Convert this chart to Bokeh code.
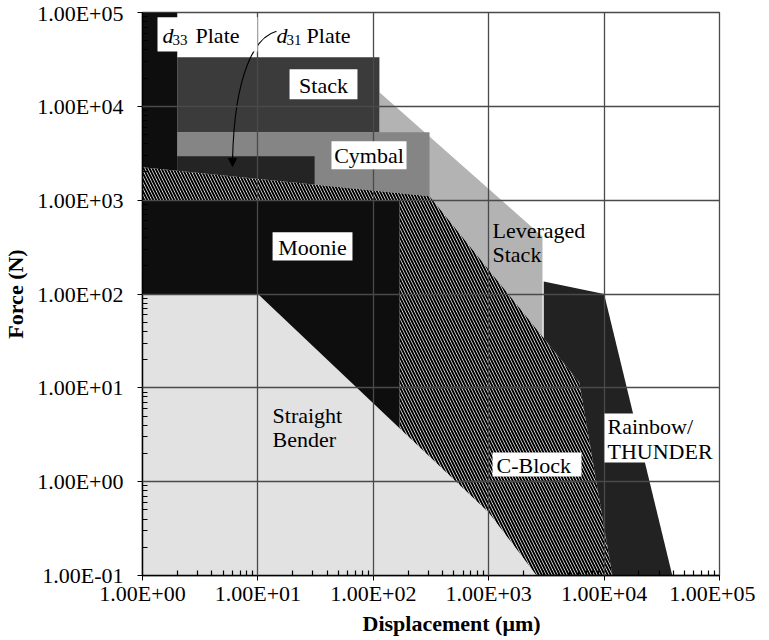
from bokeh.plotting import figure
from bokeh.models import (Range1d, FixedTicker, CustomJSTickFormatter, Label,
                          BoxAnnotation, Arrow, NormalHead, Title)
from bokeh.embed import file_html
from bokeh.resources import INLINE

# ---------------- data ----------------
x_decades = [1, 10, 100, 1000, 10000, 100000]
x_tick_labels = ["1.00E+00", "1.00E+01", "1.00E+02", "1.00E+03", "1.00E+04", "1.00E+05"]
y_decades = [0.1, 1, 10, 100, 1000, 10000, 100000]
y_tick_labels = ["1.00E-01", "1.00E+00", "1.00E+01", "1.00E+02", "1.00E+03", "1.00E+04", "1.00E+05"]

# region outlines (displacement in um, force in N)
bender_x = [1, 1, 10, 1000, 2600]
bender_y = [0.1, 100, 100, 0.47, 0.1]

leveraged_x = [113, 2925, 2925, 169, 169, 113]
leveraged_y = [14100, 411, 20, 20, 1000, 1000]

rainbow_x = [3000, 10000, 39000, 3000]
rainbow_y = [136, 100, 0.1, 0.1]

cymbal_x = [2, 307, 307, 2]
cymbal_y = [1000, 1000, 5290, 5290]

stack_x = [2, 113, 113, 2]
stack_y = [5290, 5290, 33300, 33300]

d31_x = [2, 31, 31, 2]
d31_y = [1000, 1000, 2930, 2930]

d33_x = [1, 2, 2, 1]
d33_y = [1000, 1000, 100000, 100000]

cblock_x = [1, 307, 6100, 11800, 2600, 1000, 169, 169, 1]
cblock_y = [2240, 1100, 11.4, 0.1, 0.1, 0.47, 3.7, 1000, 1000]

moonie_x = [1, 1, 169, 169, 10]
moonie_y = [100, 1000, 1000, 3.7, 100]

FONT = "Liberation Serif"

p = figure(x_axis_type="log", y_axis_type="log",
           x_range=Range1d(1, 1e5), y_range=Range1d(0.1, 1e5),
           frame_width=577, frame_height=563,
           min_border_left=142, min_border_right=36, min_border_top=12, min_border_bottom=62,
           output_backend="svg", toolbar_location=None,
           background_fill_color="white", border_fill_color="white")

def region(xs, ys, color, **kw):
    p.patch(xs, ys, fill_color=color, line_color=None, **kw)

region(bender_x, bender_y, "#e2e2e2")
region(leveraged_x, leveraged_y, "#b3b3b3")
region(rainbow_x, rainbow_y, "#222222")
region(cymbal_x, cymbal_y, "#858585")
region(stack_x, stack_y, "#3b3b3b")
region(d31_x, d31_y, "#242424")
region(d33_x, d33_y, "#0e0e0e")
p.patch(cblock_x, cblock_y, fill_color="white", line_color=None,
        hatch_pattern="left_diagonal_line", hatch_color="black",
        hatch_scale=6, hatch_weight=2)
region(moonie_x, moonie_y, "#0e0e0e")

# arrow from the d31 label
p.bezier(x0=[14.5], y0=[63000], x1=[6.03], y1=[2720],
         cx0=[9.34], cy0=[54400], cx1=[6.27], cy1=[21900],
         line_color="black", line_width=1.1)
p.add_layout(Arrow(end=NormalHead(size=8, fill_color="black", line_color="black"),
                   x_start=6.03, y_start=3000, x_end=6.03, y_end=2290,
                   line_color="black", line_width=1.1))

# ticks / axes
xt = FixedTicker(ticks=x_decades,
                 minor_ticks=[m * d for d in x_decades[:-1] for m in range(2, 10)])
yt = FixedTicker(ticks=y_decades,
                 minor_ticks=[m * d for d in y_decades[:-1] for m in range(2, 10)])
code = """
let best = 0, bd = Infinity;
for (let i = 0; i < tv.length; i++) {
  const d = Math.abs(Math.log10(tv[i]) - Math.log10(tick));
  if (d < bd) { bd = d; best = i; }
}
return tl[best];
"""
p.xaxis.ticker = xt
p.yaxis.ticker = yt
p.xgrid.ticker = xt
p.ygrid.ticker = yt
p.xaxis.formatter = CustomJSTickFormatter(args=dict(tv=x_decades, tl=x_tick_labels), code=code)
p.yaxis.formatter = CustomJSTickFormatter(args=dict(tv=y_decades, tl=y_tick_labels), code=code)

for ax in (p.xaxis[0], p.yaxis[0]):
    ax.axis_line_color = "black"
    ax.axis_line_width = 1.5
    ax.major_tick_line_color = "black"
    ax.major_tick_out = 5
    ax.major_tick_in = 0
    ax.minor_tick_line_color = "black"
    ax.minor_tick_line_width = 1.2
    ax.minor_tick_in = 5
    ax.minor_tick_out = 0
    ax.major_label_text_font = FONT
    ax.major_label_text_font_size = "22px"
    ax.major_label_text_color = "black"
    ax.axis_label_text_font = FONT
    ax.axis_label_text_font_size = "22px"
    ax.axis_label_text_font_style = "bold"
    ax.axis_label_text_color = "black"

p.xaxis.major_label_standoff = 0
p.yaxis.major_label_standoff = 14
p.yaxis.axis_label = "Force (N)"
p.yaxis.axis_label_standoff = 6

p.add_layout(Title(text="Displacement (\u03bcm)", align="left", offset=220,
                   text_font=FONT, text_font_size="22px", text_font_style="bold",
                   text_color="black", standoff=0), "below")

for g in (p.xgrid[0], p.ygrid[0]):
    g.grid_line_color = "#4a4a4a"
    g.grid_line_width = 1.3
    g.level = "guide"
p.outline_line_color = "#4a4a4a"
p.outline_line_width = 1.3

# label boxes
def box(l, r, b, t):
    p.add_layout(BoxAnnotation(left=l, right=r, bottom=b, top=t, fill_color="white",
                               fill_alpha=1, line_color=None))

def lab(text, x, y, size="22px", style="normal", align="left"):
    p.add_layout(Label(x=x, y=y, text=text, text_font=FONT, text_font_size=size,
                       text_font_style=style, text_align=align, y_offset=6,
                       text_baseline="alphabetic", text_color="black"))

box(1.349, 9.92, 38500, 88900)
lab("d", 1.49, 49300, style="italic")
lab("33", 1.82, 43600, size="15px")
lab("Plate", 2.88, 49300)

lab("d", 14.5, 49300, style="italic")
lab("31", 17.7, 43600, size="15px")
lab("Plate", 26.4, 49300)

box(18.8, 72.9, 11900, 24800)
lab("Stack", 37, 14450, align="center")

box(43.4, 194, 2130, 4240)
lab("Cymbal", 91.8, 2610, align="center")

box(13.4, 66, 228, 454)
lab("Moonie", 29.7, 271, align="center")

lab("Leveraged", 1079, 411)
lab("Stack", 1079, 228)

lab("Straight", 13.4, 4.39)
lab("Bender", 13.4, 2.43)

box(1079, 6370, 1.136, 2.05)
lab("C-Block", 1168, 1.285)

box(10080, 94200, 1.60, 5.33)
lab("Rainbow/", 10700, 3.35)
lab("THUNDER", 10700, 1.81)

open("out.html", "w").write(file_html(p, INLINE))
